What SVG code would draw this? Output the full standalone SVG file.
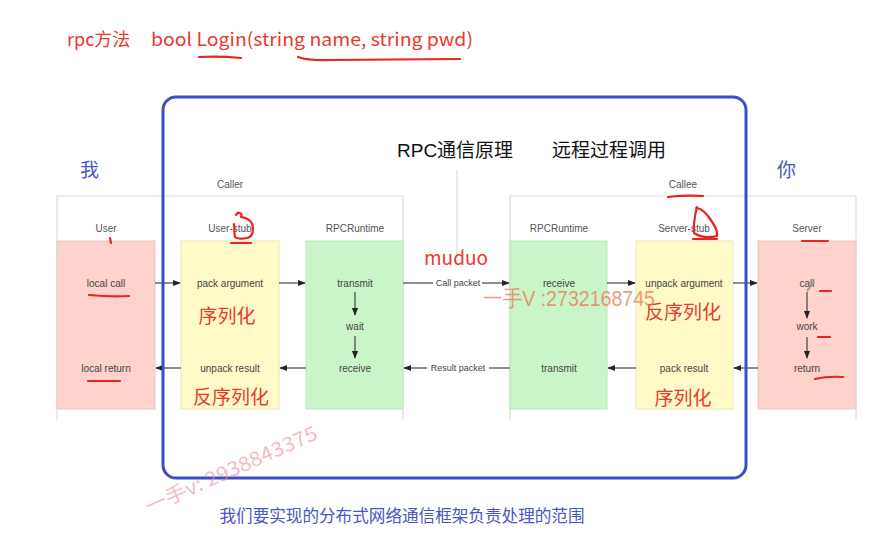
<svg xmlns="http://www.w3.org/2000/svg" width="894" height="538" viewBox="0 0 894 538">
<defs>
<marker id="ah" viewBox="0 0 10 10" refX="9" refY="5" markerWidth="7" markerHeight="7" orient="auto-start-reverse">
<path d="M0,1 L10,5 L0,9 Z" fill="#222"/>
</marker>
<style>
.lbl{font-family:"Liberation Sans",Arial,sans-serif;font-size:10px;fill:#555;text-anchor:middle}
.row{font-family:"Liberation Sans",Arial,sans-serif;font-size:10px;fill:#444;text-anchor:middle}
.pk{font-family:"Liberation Sans",Arial,sans-serif;font-size:9px;fill:#444;text-anchor:middle}
.frame{fill:none;stroke:#dcdcdc;stroke-width:1.2}
.pink{fill:#ffd2cc;stroke:#e6c9c6;stroke-width:1}
.yel{fill:#fffac8;stroke:#e8e3bf;stroke-width:1}
.grn{fill:#c9f5c9;stroke:#bfe3bf;stroke-width:1}
.ar{stroke:#333;stroke-width:1.1;fill:none;marker-end:url(#ah)}
.ln{stroke:#333;stroke-width:1.1;fill:none}
.red{font-family:"Noto Sans CJK SC","Liberation Sans",sans-serif;fill:#e83a2e}
.blue{font-family:"Noto Sans CJK SC","Liberation Sans",sans-serif;fill:#4a55c6}
.blk{font-family:"Liberation Sans","Noto Sans CJK SC",sans-serif;fill:#111;font-size:19px}
.ink{fill:none;stroke:#e8241c;stroke-width:2.2;stroke-linecap:round;stroke-linejoin:round}
</style>
</defs>
<rect width="894" height="538" fill="#fff"/>

<!-- title -->
<g id="title">
<text class="red" x="67" y="46" font-size="18">rpc方法</text>
<text class="red" x="151" y="46" font-size="18" textLength="322" lengthAdjust="spacingAndGlyphs">bool Login(string name, string pwd)</text>
<path class="ink" d="M199,57 Q220,56 241,58"/>
<path class="ink" d="M298,57 Q310,61 330,60 L460,59"/>
</g>

<!-- frames -->
<g id="caller-frame">
<path class="frame" d="M57,420 V196 H403 V420"/>
<text class="lbl" x="230" y="188">Caller</text>
</g>
<g id="callee-frame">
<path class="frame" d="M510,420 V196 H856 V420"/>
<text class="lbl" x="683" y="188">Callee</text>
</g>
<line x1="457" y1="170" x2="457" y2="258" stroke="#dcdcdc" stroke-width="1.2"/>

<!-- nodes -->
<g id="user">
<text class="lbl" x="106" y="232">User</text>
<rect class="pink" x="57" y="241" width="98" height="168"/>
<text class="row" x="106" y="287">local call</text>
<text class="row" x="106" y="372">local return</text>
</g>
<g id="user-stub">
<text class="lbl" x="230" y="232">User-stub</text>
<rect class="yel" x="181" y="241" width="98" height="168"/>
<text class="row" x="230" y="287">pack argument</text>
<text class="row" x="230" y="372">unpack result</text>
<text class="red" x="227" y="323" font-size="19" text-anchor="middle">序列化</text>
<text class="red" x="231" y="404" font-size="19" text-anchor="middle">反序列化</text>
</g>
<g id="rpcruntime-caller">
<text class="lbl" x="355" y="232">RPCRuntime</text>
<rect class="grn" x="306" y="241" width="97" height="168"/>
<text class="row" x="355" y="287">transmit</text>
<text class="row" x="355" y="330">wait</text>
<text class="row" x="355" y="372">receive</text>
</g>
<g id="rpcruntime-callee">
<text class="lbl" x="559" y="232">RPCRuntime</text>
<rect class="grn" x="510" y="241" width="97" height="168"/>
<text class="row" x="559" y="287">receive</text>
<text class="row" x="559" y="372">transmit</text>
</g>
<g id="server-stub">
<text class="lbl" x="684" y="232">Server-stub</text>
<rect class="yel" x="636" y="241" width="97" height="168"/>
<text class="row" x="684" y="287">unpack argument</text>
<text class="row" x="684" y="372">pack result</text>
<text class="red" x="683" y="319" font-size="19" text-anchor="middle">反序列化</text>
<text class="red" x="683" y="405" font-size="19" text-anchor="middle">序列化</text>
</g>
<g id="server">
<text class="lbl" x="807" y="232">Server</text>
<rect class="pink" x="758" y="241" width="98" height="168"/>
<text class="row" x="807" y="287">call</text>
<text class="row" x="807" y="330">work</text>
<text class="row" x="807" y="372">return</text>
</g>

<!-- connectors -->
<g id="connectors">
<line class="ar" x1="155" y1="283" x2="180" y2="283"/>
<line class="ar" x1="279" y1="283" x2="305" y2="283"/>
<line class="ar" x1="306" y1="368" x2="280" y2="368"/>
<line class="ar" x1="181" y1="368" x2="156" y2="368"/>
<line class="ar" x1="355" y1="292" x2="355" y2="315"/>
<line class="ar" x1="355" y1="336" x2="355" y2="358"/>
<line class="ln" x1="403" y1="283" x2="433" y2="283"/>
<text class="pk" x="458" y="286">Call packet</text>
<line class="ar" x1="482" y1="283" x2="509" y2="283"/>
<line class="ln" x1="510" y1="368" x2="489" y2="368"/>
<text class="pk" x="458" y="371">Result packet</text>
<line class="ar" x1="427" y1="368" x2="404" y2="368"/>
<line class="ar" x1="607" y1="283" x2="635" y2="283"/>
<line class="ar" x1="733" y1="283" x2="757" y2="283"/>
<line class="ar" x1="758" y1="368" x2="734" y2="368"/>
<line class="ar" x1="636" y1="368" x2="608" y2="368"/>
<line class="ar" x1="807" y1="292" x2="807" y2="318"/>
<line class="ar" x1="807" y1="337" x2="807" y2="358"/>
</g>

<!-- blue scope -->
<g id="scope">
<rect x="163" y="97" width="583" height="381" rx="13" fill="none" stroke="#3b4cc8" stroke-width="3"/>
</g>

<g id="headings">
<text class="blk" x="397" y="157">RPC通信原理</text>
<text class="blk" x="552" y="157">远程过程调用</text>
<text class="blue" x="80" y="177" font-size="19">我</text>
<text class="blue" x="777" y="177" font-size="19">你</text>
<text class="red" x="424" y="265" font-size="19">muduo</text>
<text class="blue" x="402" y="522" font-size="16.6" text-anchor="middle">我们要实现的分布式网络通信框架负责处理的范围</text>
</g>

<!-- annotations -->
<g id="annotations">
<path class="ink" d="M110,238 l1,5"/>
<path class="ink" d="M236,215 c2,-4 7,-2 5,2 c7,1 12,5 12,12 c0,5 -2,8 -6,9 c-4,1 -10,1 -12,-1 c-1,-4 0,-9 -1,-13"/>
<path class="ink" d="M231,243 h20"/>
<path class="ink" d="M89,295 Q110,297 129,296"/>
<path class="ink" d="M88,381 h32"/>
<path class="ink" d="M668,197 Q685,195 703,196"/>
<path class="ink" d="M697,207 c-2,8 -4,16 -3,26 c6,4 15,5 23,3 c1,-6 -4,-13 -9,-20 c-4,-5 -8,-8 -12,-8"/>
<path class="ink" d="M693,239 h24"/>
<path class="ink" d="M802,241 h26"/>
<path class="ink" d="M820,291 h11"/>
<path class="ink" d="M818,337 h12"/>
<path class="ink" d="M815,379 Q828,376 843,377"/>
<path d="M814,282 l-7,9" stroke="#999" stroke-width="2" fill="none"/>
</g>

<!-- watermarks -->
<g id="watermarks">
<text x="483" y="306" font-family="'Liberation Sans Narrow','Liberation Sans',sans-serif" font-size="22" fill="#e8774f" fill-opacity="0.75" textLength="172" lengthAdjust="spacingAndGlyphs" font-family-cjk="">一手V :2732168745</text>
<text x="0" y="0" font-family="'Noto Sans CJK SC','Liberation Sans',sans-serif" font-size="20" fill="#f08a9a" fill-opacity="0.6" transform="translate(149,514) rotate(-24)" textLength="186" lengthAdjust="spacingAndGlyphs">一手v: 2938843375</text>
</g>
</svg>
